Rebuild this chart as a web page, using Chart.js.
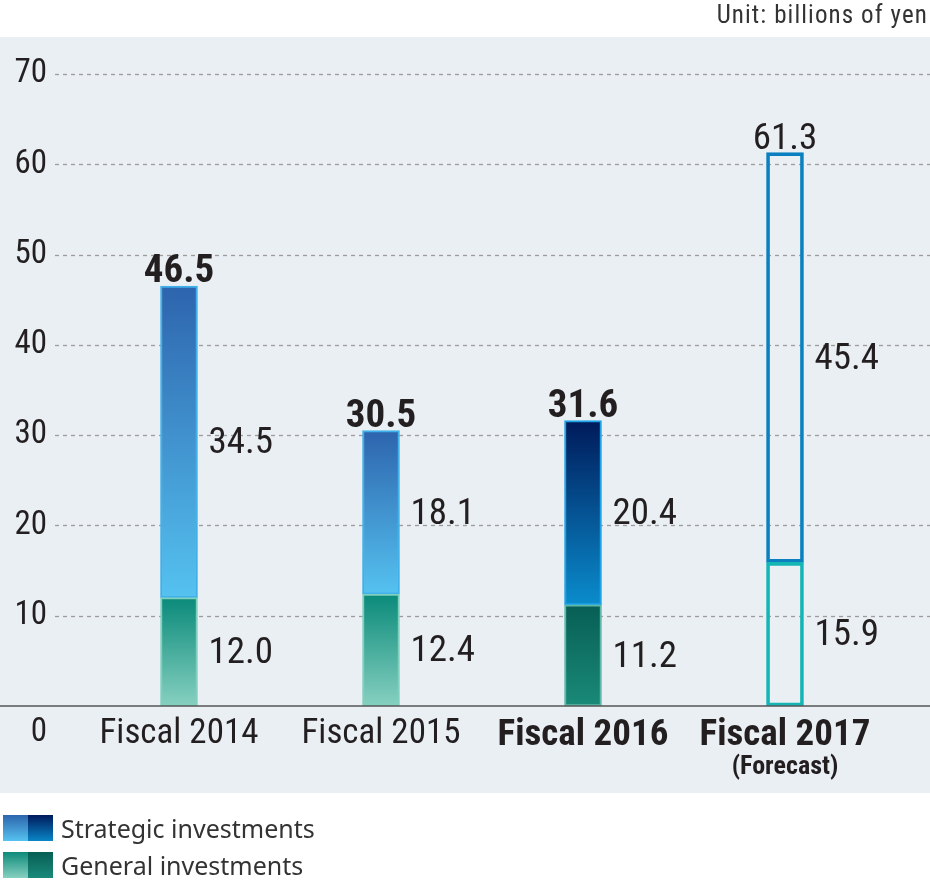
<!DOCTYPE html>
<html lang="en">
<head>
    <meta charset="UTF-8">
    <title>Investments</title>
    <script src="https://cdn.jsdelivr.net/npm/chart.js"></script>
    <style>
        html, body {
            margin: 0;
            padding: 0;
            background: #ffffff;
        }

        .wrap {
            position: relative;
            width: 930px;
            height: 880px;
        }

        .unit {
            position: absolute;
            right: 2px;
            top: 0px;
            font-family: 'Liberation Sans Narrow', 'Roboto Condensed', 'DejaVu Sans Condensed', sans-serif;
            font-size: 25px;
            letter-spacing: 1.1px;
            color: #333333;
        }

        .legend {
            position: absolute;
            left: 3px;
            top: 815px;
            font-family: 'Noto Sans', sans-serif;
            font-size: 25px;
            color: #333333;
        }

        .legend-row {
            display: flex;
            align-items: center;
            height: 26px;
            margin-bottom: 11px;
        }

        .sw {
            width: 25px;
            height: 26px;
        }

        .label {
            margin-left: 8px;
        }
    </style>
</head>
<body>
    <div class="wrap">
        <canvas id="chart" width="930" height="880"></canvas>
        <div class="unit">Unit: billions of yen</div>
        <div class="legend">
            <div class="legend-row">
                <div class="sw" style="background: linear-gradient(#2d65ad, #55c2f0);"></div>
                <div class="sw" style="background: linear-gradient(#001a5c, #0a86c6);"></div>
                <span class="label">Strategic investments</span>
            </div>
            <div class="legend-row">
                <div class="sw" style="background: linear-gradient(#0e8a7a, #86d0c0);"></div>
                <div class="sw" style="background: linear-gradient(#075e54, #1a8a7a);"></div>
                <span class="label">General investments</span>
            </div>
        </div>
    </div>

    <script>
        const categories = ['Fiscal 2014', 'Fiscal 2015', 'Fiscal 2016', 'Fiscal 2017'];
        const subLabels = ['', '', '', '(Forecast)'];
        const generalValues = [12.0, 12.4, 11.2, 15.9];
        const strategicValues = [34.5, 18.1, 20.4, 45.4];
        const totalValues = [46.5, 30.5, 31.6, 61.3];

        const narrow = "'Liberation Sans Narrow', 'Roboto Condensed', 'DejaVu Sans Condensed', sans-serif";
        const textColor = '#231f20';

        // gradient colours per bar: [top, bottom]
        const strategicFill = [['#2d64ad', '#55c2f0'], ['#2d64ad', '#55c2f0'], ['#001a5a', '#0a8ccc'], null];
        const generalFill = [['#0a8a7a', '#86d0c0'], ['#0a8a7a', '#86d0c0'], ['#075e54', '#1a8a78'], null];

        function gradientFill(ctx, fills, lowVals, highVals) {
            if (ctx.type !== 'data') return 'transparent';
            const i = ctx.dataIndex;
            const chart = ctx.chart;
            if (!chart.chartArea || !fills[i]) return 'rgba(0,0,0,0)';
            const y = chart.scales.y;
            const top = y.getPixelForValue(highVals[i]);
            const bottom = y.getPixelForValue(lowVals[i]);
            const g = chart.ctx.createLinearGradient(0, top, 0, bottom);
            g.addColorStop(0, fills[i][0]);
            g.addColorStop(1, fills[i][1]);
            return g;
        }

        const panelPlugin = {
            id: 'panel',
            beforeDraw(chart) {
                const c = chart.ctx;
                c.save();
                c.fillStyle = '#eaeff4';
                c.fillRect(0, 37, 930, 756);
                c.restore();
            },
            beforeDatasetsDraw(chart) {
                const c = chart.ctx;
                const y = chart.scales.y;
                c.save();
                c.strokeStyle = '#9c9c9c';
                c.lineWidth = 1.3;
                c.setLineDash([4, 4]);
                y.ticks.forEach(t => {
                    if (t.value === 0) return;
                    const py = Math.round(y.getPixelForValue(t.value)) + 0.5;
                    c.beginPath();
                    c.moveTo(55, py);
                    c.lineTo(930, py);
                    c.stroke();
                });
                c.restore();
            },
            afterDatasetsDraw(chart) {
                const c = chart.ctx;
                const y = chart.scales.y;
                const x = chart.scales.x;
                const py0 = y.getPixelForValue(0);
                c.save();
                c.strokeStyle = '#555555';
                c.lineWidth = 1.5;
                c.beginPath();
                c.moveTo(0, py0);
                c.lineTo(930, py0);
                c.stroke();

                // segment values
                c.fillStyle = textColor;
                c.textBaseline = 'middle';
                c.textAlign = 'left';
                c.font = '37px ' + narrow;
                [0, 1].forEach(di => {
                    const meta = chart.getDatasetMeta(di);
                    const vals = di === 0 ? generalValues : strategicValues;
                    meta.data.forEach((bar, i) => {
                        const mid = (bar.y + bar.base) / 2 + 2;
                        c.fillText(vals[i].toFixed(1), bar.x + bar.width / 2 + 11, mid);
                    });
                });

                // totals
                const topMeta = chart.getDatasetMeta(1);
                c.textAlign = 'center';
                c.textBaseline = 'alphabetic';
                topMeta.data.forEach((bar, i) => {
                    c.font = (i < 3 ? 'bold 39px ' : '37px ') + narrow;
                    c.fillText(totalValues[i].toFixed(1), bar.x, bar.y - 4);
                });

                // second line under category labels
                c.font = 'bold 26px ' + narrow;
                c.textBaseline = 'middle';
                subLabels.forEach((s, i) => {
                    if (s) c.fillText(s, x.getPixelForValue(i), py0 + 61);
                });
                c.restore();
            }
        };

        new Chart(document.getElementById('chart'), {
            type: 'bar',
            data: {
                labels: categories,
                datasets: [
                    {
                        label: 'General investments',
                        data: generalValues,
                        backgroundColor: ctx => gradientFill(ctx, generalFill,
                            generalValues.map(() => 0), generalValues),
                        borderColor: ['#7fcfbf', '#7fcfbf', '#5fb8a8', '#14b5b5'],
                        borderWidth: [2, 2, 2, 3],
                        borderSkipped: false,
                        barThickness: 37
                    },
                    {
                        label: 'Strategic investments',
                        data: strategicValues,
                        backgroundColor: ctx => gradientFill(ctx, strategicFill,
                            generalValues, totalValues),
                        borderColor: ['#3fb0ea', '#3fb0ea', '#1ea3e6', '#0a80c0'],
                        borderWidth: [2, 2, 2, 3],
                        borderSkipped: false,
                        barThickness: 37
                    }
                ]
            },
            options: {
                responsive: false,
                animation: false,
                events: [],
                layout: {
                    padding: { top: 74, right: 44, bottom: 115, left: 0 }
                },
                plugins: {
                    legend: { display: false },
                    tooltip: { enabled: false }
                },
                scales: {
                    x: {
                        stacked: true,
                        grid: { display: false, drawTicks: false },
                        border: { display: false },
                        ticks: {
                            color: textColor,
                            padding: 11,
                            font: ctx => ({
                                family: narrow,
                                size: ctx.index >= 2 ? 37 : 35,
                                lineHeight: 1,
                                weight: ctx.index >= 2 ? 'bold' : 'normal'
                            })
                        }
                    },
                    y: {
                        stacked: true,
                        min: 0,
                        max: 70,
                        grid: { display: false, drawTicks: false },
                        border: { display: false },
                        afterFit(scale) {
                            scale.width = 78;
                        },
                        ticks: {
                            stepSize: 10,
                            autoSkip: false,
                            color: textColor,
                            padding: 31,
                            font: { family: narrow, size: 33, lineHeight: 1.6 },
                            callback: v => v === 0 ? ['', '0'] : String(v)
                        }
                    }
                }
            },
            plugins: [panelPlugin]
        });
    </script>
</body>
</html>
